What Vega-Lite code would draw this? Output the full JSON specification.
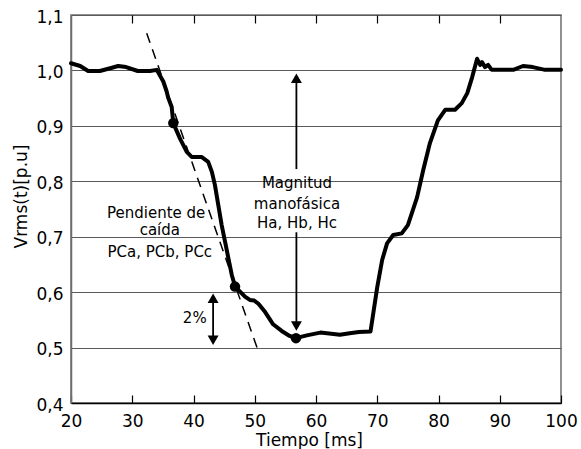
{
  "$schema": "https://vega.github.io/schema/vega-lite/v6.json",
  "autosize": "none",
  "width": 490,
  "height": 388,
  "padding": {"left": 71, "top": 15, "right": 20, "bottom": 46},
  "background": "white",
  "config": {
    "view": {"stroke": "#6e6e6e", "strokeWidth": 1.5},
    "font": "DejaVu Sans",
    "axis": {"labelFont": "DejaVu Sans", "titleFont": "DejaVu Sans", "labelColor": "black", "titleColor": "black", "labelFontSize": 17, "titleFontSize": 17, "titleFontWeight": "normal", "labelOverlap": false}
  },
  "datasets": {
    "curve": [
      {"t": 20.0, "v": 1.013}, {"t": 21.5, "v": 1.008}, {"t": 22.8, "v": 0.999}, {"t": 24.7, "v": 0.999},
      {"t": 26.4, "v": 1.004}, {"t": 27.7, "v": 1.008}, {"t": 29.0, "v": 1.006}, {"t": 30.9, "v": 0.999},
      {"t": 32.9, "v": 0.999}, {"t": 34.0, "v": 1.001}, {"t": 35.07, "v": 0.980}, {"t": 35.62, "v": 0.962},
      {"t": 35.89, "v": 0.950}, {"t": 36.44, "v": 0.934}, {"t": 36.7, "v": 0.905}, {"t": 37.8, "v": 0.877},
      {"t": 38.9, "v": 0.853}, {"t": 39.7, "v": 0.844}, {"t": 41.3, "v": 0.844}, {"t": 42.4, "v": 0.835},
      {"t": 43.0, "v": 0.817}, {"t": 43.5, "v": 0.793}, {"t": 44.05, "v": 0.757}, {"t": 44.6, "v": 0.721},
      {"t": 45.15, "v": 0.691}, {"t": 45.7, "v": 0.661}, {"t": 46.25, "v": 0.631}, {"t": 46.8, "v": 0.610},
      {"t": 48.4, "v": 0.592}, {"t": 49.2, "v": 0.586}, {"t": 49.9, "v": 0.585}, {"t": 50.6, "v": 0.579},
      {"t": 51.7, "v": 0.564}, {"t": 53.0, "v": 0.542}, {"t": 54.4, "v": 0.530}, {"t": 55.7, "v": 0.521},
      {"t": 56.7, "v": 0.517}, {"t": 58.5, "v": 0.522}, {"t": 60.7, "v": 0.527}, {"t": 62.5, "v": 0.525},
      {"t": 63.9, "v": 0.523}, {"t": 65.5, "v": 0.526}, {"t": 67.0, "v": 0.528}, {"t": 68.9, "v": 0.529},
      {"t": 70.0, "v": 0.609}, {"t": 70.8, "v": 0.658}, {"t": 71.6, "v": 0.688}, {"t": 72.6, "v": 0.703},
      {"t": 74.0, "v": 0.706}, {"t": 75.0, "v": 0.721}, {"t": 76.5, "v": 0.771}, {"t": 77.5, "v": 0.820},
      {"t": 78.6, "v": 0.869}, {"t": 79.9, "v": 0.910}, {"t": 81.1, "v": 0.929}, {"t": 82.7, "v": 0.929},
      {"t": 83.8, "v": 0.941}, {"t": 84.7, "v": 0.959}, {"t": 85.5, "v": 0.988}, {"t": 86.3, "v": 1.021},
      {"t": 86.8, "v": 1.010}, {"t": 87.1, "v": 1.015}, {"t": 87.6, "v": 1.006}, {"t": 88.1, "v": 1.010},
      {"t": 88.7, "v": 1.001}, {"t": 90.5, "v": 1.001}, {"t": 92.2, "v": 1.001}, {"t": 93.8, "v": 1.008},
      {"t": 95.4, "v": 1.006}, {"t": 97.4, "v": 1.001}, {"t": 100.0, "v": 1.001}
    ],
    "slope": [{"t": 32.36, "v": 1.067}, {"t": 50.53, "v": 0.495}],
    "dots": [{"t": 36.7, "v": 0.905}, {"t": 46.78, "v": 0.610}, {"t": 56.73, "v": 0.517}],
    "shafts": [
      {"t": 56.8, "v": 0.99, "v2": 0.822},
      {"t": 56.8, "v": 0.708, "v2": 0.535},
      {"t": 43.2, "v": 0.592, "v2": 0.51}
    ],
    "heads": [
      {"t": 56.8, "v": 0.986, "dir": "up"},
      {"t": 56.8, "v": 0.539, "dir": "down"},
      {"t": 43.2, "v": 0.589, "dir": "up"},
      {"t": 43.2, "v": 0.513, "dir": "down"}
    ],
    "notes": [
      {"t": 56.9, "v": 0.797, "label": "Magnitud"},
      {"t": 56.9, "v": 0.759, "label": "manofásica"},
      {"t": 56.9, "v": 0.724, "label": "Ha, Hb, Hc"},
      {"t": 33.9, "v": 0.743, "label": "Pendiente de"},
      {"t": 34.5, "v": 0.712, "label": "caída"},
      {"t": 34.5, "v": 0.673, "label": "PCa, PCb, PCc"},
      {"t": 40.2, "v": 0.553, "label": "2%"}
    ]
  },
  "resolve": {"axis": {"x": "independent"}},
  "layer": [
    {
      "data": {"name": "curve"},
      "mark": {"type": "line", "color": "black", "strokeWidth": 4, "strokeJoin": "round", "strokeCap": "round"},
      "encoding": {
        "x": {"field": "t", "type": "quantitative", "scale": {"domain": [20, 100], "nice": false, "zero": false},
          "axis": {"title": "Tiempo [ms]", "values": [20, 30, 40, 50, 60, 70, 80, 90, 100], "grid": false,
            "tickSize": -8, "tickColor": "black", "tickWidth": 1.2, "domainColor": "black", "domainWidth": 1.5,
            "labelPadding": 18, "labelFlush": false, "titleX": 238, "titleY": 37, "titleBaseline": "middle", "titleAlign": "center"}},
        "y": {"field": "v", "type": "quantitative", "scale": {"domain": [0.4, 1.1], "nice": false, "zero": false},
          "axis": {"title": "Vrms(t)[p.u]", "values": [0.4, 0.5, 0.6, 0.7, 0.8, 0.9, 1.0, 1.1], "grid": true,
            "gridColor": "#5a5a5a", "gridWidth": 1.2, "ticks": false, "domainColor": "#6e6e6e", "domainWidth": 1.5,
            "labelExpr": "replace(format(datum.value, '.1f'), '.', ',')", "labelPadding": 8, "labelOffset": 2,
            "titleX": -50, "titleY": 181, "titleAngle": -90, "titleAlign": "center", "titleBaseline": "middle"}}
      }
    },
    {
      "data": {"name": "slope"},
      "mark": {"type": "line", "color": "black", "strokeWidth": 1.5, "strokeDash": [10, 7]},
      "encoding": {
        "x": {"field": "t", "type": "quantitative",
          "axis": {"orient": "top", "values": [30, 40, 50, 60, 70, 80, 90], "tickSize": -8, "tickColor": "black", "tickWidth": 1.2,
            "labels": false, "title": null, "domain": false, "grid": false}},
        "y": {"field": "v", "type": "quantitative"}
      }
    },
    {
      "data": {"name": "dots"},
      "mark": {"type": "point", "filled": true, "color": "black", "opacity": 1, "size": 110},
      "encoding": {
        "x": {"field": "t", "type": "quantitative", "axis": null},
        "y": {"field": "v", "type": "quantitative"}
      }
    },
    {
      "data": {"name": "shafts"},
      "mark": {"type": "rule", "color": "black", "strokeWidth": 1.8},
      "encoding": {
        "x": {"field": "t", "type": "quantitative", "axis": null},
        "y": {"field": "v", "type": "quantitative"},
        "y2": {"field": "v2"}
      }
    },
    {
      "data": {"name": "heads"},
      "mark": {"type": "point", "filled": true, "color": "black", "opacity": 1, "size": 120},
      "encoding": {
        "x": {"field": "t", "type": "quantitative", "axis": null},
        "y": {"field": "v", "type": "quantitative"},
        "shape": {"field": "dir", "type": "nominal", "scale": {"domain": ["up", "down"], "range": ["triangle-up", "triangle-down"]}, "legend": null}
      }
    },
    {
      "data": {"name": "notes"},
      "mark": {"type": "text", "font": "DejaVu Sans", "fontSize": 15, "color": "black", "align": "center", "baseline": "middle"},
      "encoding": {
        "x": {"field": "t", "type": "quantitative", "axis": null},
        "y": {"field": "v", "type": "quantitative"},
        "text": {"field": "label"}
      }
    }
  ]
}
